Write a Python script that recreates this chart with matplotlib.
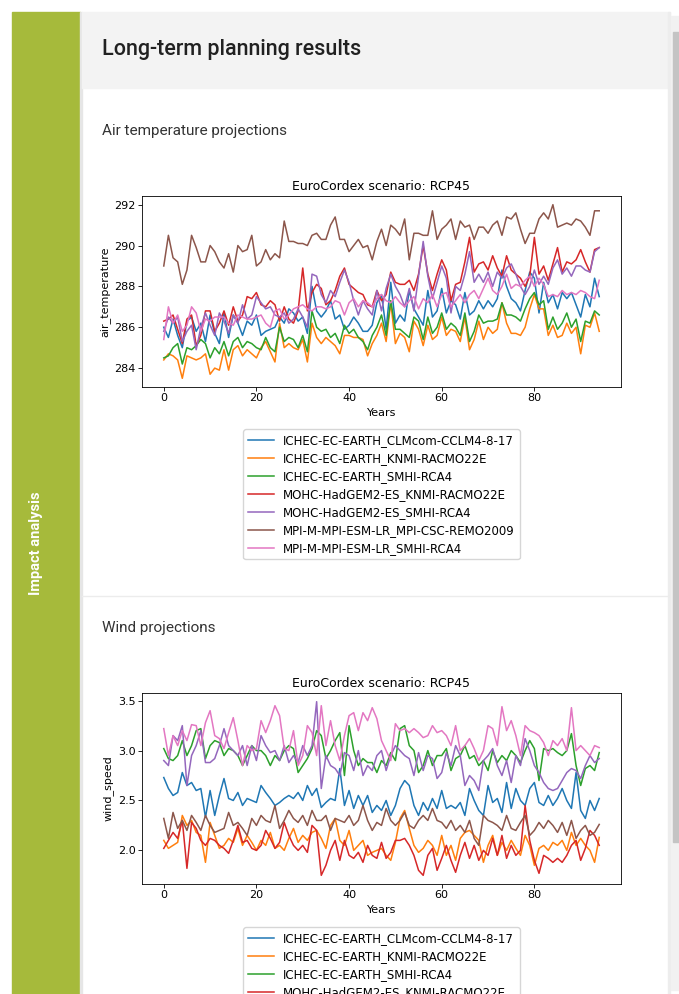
import numpy as np
import matplotlib
matplotlib.use('Agg')
import matplotlib.pyplot as plt
from matplotlib.patches import Rectangle
from matplotlib.ticker import MultipleLocator, FormatStrFormatter

W, H = 679, 994

###
# Data
###
years = np.arange(95)

models = [
    'ICHEC-EC-EARTH_CLMcom-CCLM4-8-17',
    'ICHEC-EC-EARTH_KNMI-RACMO22E',
    'ICHEC-EC-EARTH_SMHI-RCA4',
    'MOHC-HadGEM2-ES_KNMI-RACMO22E',
    'MOHC-HadGEM2-ES_SMHI-RCA4',
    'MPI-M-MPI-ESM-LR_MPI-CSC-REMO2009',
    'MPI-M-MPI-ESM-LR_SMHI-RCA4',
]

# air temperature (K)
temp_clmcom = [
    286.0, 285.5, 286.4, 285.6, 285.0, 286.3, 286.5, 285.8, 286.2, 285.3,
    286.6, 285.7, 285.2, 286.7, 285.5, 286.6, 286.2, 285.6, 286.3, 286.1,
    286.6, 285.6, 285.8, 285.9, 286.0, 286.5, 286.2, 286.9, 286.7, 286.3,
    286.5, 285.7, 288.0, 286.8, 286.5, 286.8, 287.3, 286.4, 286.6, 285.9,
    286.1, 286.5, 286.2, 285.8, 285.8, 286.1, 287.2, 287.6, 285.9, 288.2,
    286.2, 286.6, 286.3, 287.8, 286.9, 286.5, 286.1, 287.8, 286.5, 286.8,
    287.9, 286.7, 287.3, 287.1, 286.4, 287.7, 286.6, 286.8, 287.3, 286.9,
    287.3, 287.0, 287.4, 288.8, 288.0, 287.4, 287.2, 286.8, 287.8, 288.7,
    288.4, 286.7, 288.2, 287.2, 287.6, 286.9, 287.7, 287.4, 287.7, 287.1,
    286.5, 287.6, 287.0, 288.4, 287.5]
temp_ec_knmi = [
    284.4, 284.7, 284.6, 284.4, 283.5, 284.6, 284.5, 284.4, 284.5, 284.7,
    283.7, 284.0, 283.9, 284.9, 283.9, 284.9, 285.1, 284.6, 284.9, 284.7,
    284.5, 285.0, 285.3, 284.8, 284.3, 286.2, 285.0, 285.2, 285.0, 284.9,
    285.4, 284.3, 286.2, 285.5, 285.2, 285.5, 285.3, 285.1, 284.7, 285.6,
    285.6, 285.5, 285.5, 285.4, 284.6, 285.2, 285.6, 286.2, 285.3, 287.2,
    285.2, 285.7, 285.5, 284.8, 286.3, 285.9, 285.1, 286.1, 285.4, 285.6,
    286.5, 285.6, 285.9, 285.8, 285.3, 286.5, 284.9, 285.4, 286.3, 285.4,
    286.0, 285.7, 285.9, 287.2, 286.2, 285.7, 285.7, 285.6, 286.0, 286.9,
    287.6, 286.9, 286.9, 285.6, 286.1, 285.5, 285.6, 286.2, 285.7, 286.0,
    284.7, 286.1, 286.0, 286.7, 285.8]
temp_ec_smhi = [
    284.5, 284.6, 285.0, 285.2, 284.2, 285.0, 284.9, 285.1, 285.4, 285.2,
    284.5, 285.0, 284.7, 285.3, 284.6, 285.3, 285.5, 285.0, 285.3, 285.2,
    285.0, 284.9, 285.5, 285.0, 284.8, 286.0, 285.3, 285.5, 285.4, 285.0,
    285.6, 284.8, 286.8, 286.0, 285.8, 285.9, 285.5, 285.7, 285.2, 286.1,
    285.7, 285.9, 285.5, 285.3, 284.9, 285.6, 286.0, 286.6, 285.6, 287.3,
    285.9, 285.9, 285.7, 285.5, 286.5, 286.3, 285.4, 286.5, 285.7, 286.0,
    286.7, 285.9, 286.2, 286.0, 285.6, 286.7, 285.3, 285.8, 286.6, 286.2,
    286.3, 286.3, 286.4, 287.2, 286.6, 286.6, 286.5, 286.3, 286.9, 287.4,
    287.7, 287.1, 287.3, 285.9, 286.5, 285.9, 286.2, 286.7, 286.0, 286.4,
    285.3, 286.3, 286.2, 286.8, 286.6]
temp_mohc_knmi = [
    286.3, 286.4, 286.6, 285.9, 285.2, 286.4, 286.6, 285.1, 285.6, 286.8,
    286.8, 285.8, 286.2, 286.8, 286.1, 287.0, 286.3, 286.6, 287.5, 287.4,
    287.7, 287.1, 287.0, 287.3, 287.1, 286.3, 287.0, 286.4, 286.2, 286.8,
    288.9, 286.8, 287.7, 288.1, 287.9, 287.1, 287.3, 287.8, 288.5, 288.9,
    288.1, 287.9, 287.7, 287.6, 287.1, 287.0, 287.8, 287.3, 287.6, 288.7,
    288.2, 288.1, 288.1, 288.3, 287.8, 288.6, 290.0, 288.6, 287.8, 288.6,
    289.3, 288.8, 287.3, 288.1, 288.2, 289.2, 290.4, 288.7, 289.1, 289.2,
    288.8, 289.5, 288.9, 288.5, 289.5, 288.8, 288.6, 288.4, 288.0, 288.5,
    290.4, 288.6, 289.0, 288.3, 289.1, 289.9, 288.7, 289.2, 289.1, 289.3,
    289.8, 289.2, 288.7, 289.8, 289.9]
temp_mohc_smhi = [
    285.8, 286.5, 286.2, 286.5, 285.3, 285.8, 286.1, 284.9, 286.0, 286.7,
    286.1, 285.6, 286.7, 286.3, 285.7, 286.6, 286.2, 287.1, 286.4, 286.6,
    287.5, 287.2, 286.9, 287.0, 286.6, 286.5, 286.7, 286.2, 286.4, 286.9,
    286.5, 286.0, 288.6, 288.5, 287.6, 287.2, 287.8, 287.5, 288.2, 288.8,
    288.2, 287.3, 286.6, 287.3, 286.9, 286.6, 287.8, 286.8, 287.9, 288.6,
    288.0, 287.6, 287.0, 287.9, 286.8, 288.5, 290.2, 288.5, 287.4, 288.2,
    289.0, 288.4, 286.7, 288.0, 287.8, 288.6, 289.7, 288.2, 288.6, 288.2,
    288.7, 288.0, 288.7, 288.4, 288.9, 289.1, 288.6, 288.0, 287.6, 288.0,
    288.8, 288.1, 288.5, 288.1, 288.9, 289.3, 288.6, 288.9, 288.5, 289.0,
    289.0, 288.8, 288.7, 289.7, 289.9]
temp_mpi_remo = [
    289.0, 290.5, 289.4, 289.2, 288.1, 288.8, 290.5, 289.9, 289.2, 289.2,
    290.0, 289.7, 289.2, 288.9, 289.6, 288.7, 290.0, 289.7, 289.8, 290.5,
    289.0, 289.2, 289.8, 289.3, 289.6, 289.4, 291.2, 290.2, 290.2, 290.1,
    290.1, 290.0, 290.5, 290.6, 290.3, 290.3, 291.0, 291.4, 290.3, 290.3,
    289.7, 290.0, 290.3, 289.9, 290.0, 289.3, 290.2, 290.8, 290.0, 291.0,
    290.8, 290.5, 291.3, 289.3, 290.6, 290.6, 290.5, 290.5, 291.7, 290.3,
    290.8, 291.0, 291.3, 290.3, 291.2, 290.9, 291.0, 290.3, 290.9, 290.9,
    290.6, 291.0, 291.2, 290.5, 291.4, 291.3, 291.6, 290.8, 290.1, 290.6,
    290.6, 291.3, 291.6, 291.3, 292.0, 290.9, 291.0, 291.1, 291.0, 291.3,
    291.2, 290.9, 290.5, 291.7, 291.7]
temp_mpi_smhi = [
    285.4, 287.0, 286.2, 286.6, 285.8, 286.1, 287.0, 286.7, 285.8, 286.4,
    286.3, 286.5, 286.5, 286.5, 286.2, 286.1, 286.6, 286.5, 286.4, 286.4,
    286.5, 286.6, 286.2, 286.0, 286.8, 286.9, 286.4, 286.6, 286.9, 287.0,
    287.1, 286.9, 286.8, 287.0, 287.0, 286.9, 287.0, 287.3, 287.2, 286.6,
    287.2, 287.4, 287.0, 287.3, 287.2, 287.0, 287.4, 287.6, 287.3, 287.2,
    287.5, 287.2, 287.0, 287.3, 287.5, 286.9, 287.4, 287.2, 287.6, 287.0,
    287.6, 287.7, 287.0, 287.3, 287.6, 287.2, 287.6, 287.8, 287.4, 287.9,
    288.4, 287.8, 287.6, 288.0, 288.6, 287.9, 288.1, 288.0, 288.3, 288.5,
    288.0, 288.4, 288.1, 287.5, 287.6, 287.5, 287.8, 287.6, 287.7, 287.6,
    287.8, 287.7, 287.5, 287.4, 288.3]

# wind speed (m/s)
wind_clmcom = [
    2.73, 2.62, 2.55, 2.58, 2.78, 2.65, 2.68, 2.60, 2.62, 2.33,
    2.60, 2.35, 2.55, 2.72, 2.52, 2.50, 2.58, 2.45, 2.52, 2.50,
    2.48, 2.65, 2.58, 2.52, 2.45, 2.48, 2.52, 2.55, 2.52, 2.58,
    2.50, 2.65, 2.55, 2.62, 2.43, 2.48, 2.52, 2.50, 2.82, 2.45,
    2.60, 2.42, 2.55, 2.45, 2.55, 2.38, 2.45, 2.40, 2.50, 2.35,
    2.45, 2.62, 2.70, 2.65, 2.45, 2.35, 2.48, 2.40, 2.52, 2.42,
    2.60, 2.42, 2.45, 2.42, 2.48, 2.35, 2.62, 2.50, 2.40, 2.35,
    2.65, 2.48, 2.52, 2.38, 2.68, 2.42, 2.62, 2.50, 2.45, 2.62,
    2.68, 2.48, 2.45, 2.55, 2.45, 2.52, 2.62, 2.50, 2.42, 2.78,
    2.40, 2.32, 2.50, 2.40, 2.52]
wind_ec_knmi = [
    2.10, 2.02, 2.05, 2.08, 2.35, 2.25, 2.30, 2.18, 2.15, 1.88,
    2.28, 2.15, 2.02, 2.05, 2.12, 2.08, 2.22, 2.05, 2.15, 2.08,
    2.00, 2.10, 2.05, 2.18, 2.02, 2.05, 2.00, 2.12, 2.22, 2.08,
    2.15, 2.10, 2.18, 2.20, 2.12, 2.02, 2.25, 2.32, 2.10, 2.05,
    2.20, 2.00, 2.05, 2.10, 1.95, 1.98, 2.00, 2.02, 1.95, 1.90,
    2.08, 2.32, 2.40, 2.22, 2.05, 1.98, 2.02, 2.10, 2.05, 1.95,
    2.15, 1.95, 2.05, 1.90, 2.12, 2.18, 2.20, 2.15, 2.10, 1.88,
    2.05, 2.15, 1.95, 2.08, 2.00, 2.10, 2.02, 1.95, 2.15, 2.05,
    1.85, 2.02, 2.05, 2.00, 2.08, 2.05, 2.10, 2.00, 2.18, 2.05,
    2.12, 2.05, 2.00, 1.88, 2.13]
wind_ec_smhi = [
    3.02, 2.92, 2.90, 2.95, 3.10, 2.95, 3.05, 3.20, 3.22, 2.92,
    3.05, 3.10, 3.08, 2.95, 3.02, 3.00, 2.95, 2.85, 2.95, 3.05,
    3.00, 3.00, 2.95, 2.85, 2.95, 2.90, 3.00, 3.05, 3.02, 2.78,
    2.85, 2.92, 3.02, 3.20, 3.15, 2.92, 3.00, 3.10, 3.18, 2.75,
    3.25, 3.00, 2.85, 2.92, 2.88, 2.88, 2.78, 2.90, 2.85, 2.98,
    2.90, 3.22, 3.25, 3.05, 3.00, 2.78, 2.85, 3.00, 2.85, 2.95,
    2.95, 3.02, 2.80, 2.92, 2.95, 3.05, 2.92, 2.95, 2.85, 2.90,
    2.80, 3.00, 2.88, 2.95, 2.90, 3.00, 2.95, 2.88, 3.00, 3.10,
    3.02, 2.70, 3.02, 3.00, 3.02, 2.98, 2.95, 3.00, 3.17, 2.85,
    2.65, 2.82, 2.85, 2.80, 2.98]
wind_mohc_knmi = [
    2.02, 2.10, 2.18, 2.12, 2.30, 1.82, 2.28, 2.22, 2.10, 2.05,
    2.12, 2.10, 2.05, 2.02, 1.97, 2.10, 2.25, 2.08, 2.10, 2.02,
    2.00, 2.05, 2.20, 2.12, 2.02, 2.08, 2.28, 2.15, 2.05, 2.00,
    2.05, 1.98, 2.25, 2.20, 1.75, 1.85, 2.00, 2.10, 1.90, 2.10,
    1.95, 1.92, 1.98, 1.88, 2.05, 1.95, 1.92, 2.08, 1.92, 1.98,
    2.10, 2.10, 2.12, 2.05, 1.95, 1.80, 1.75, 1.95, 2.02, 1.80,
    1.92, 2.05, 1.90, 1.78, 1.95, 2.08, 1.92, 2.05, 1.90, 2.00,
    1.95, 2.12, 1.95, 2.15, 1.92, 2.05, 1.95, 2.00, 2.45, 2.10,
    1.90, 1.77, 1.95, 1.92, 1.88, 1.92, 1.88, 1.95, 2.05, 2.10,
    1.90, 2.02, 2.20, 2.15, 2.05]
wind_mohc_smhi = [
    2.90, 2.85, 3.15, 3.10, 3.25, 2.65, 2.95, 3.05, 3.20, 2.88,
    2.88, 2.92, 3.05, 3.22, 3.05, 3.00, 2.95, 3.05, 2.85, 3.05,
    2.90, 3.15, 3.05, 2.98, 3.00, 2.90, 3.05, 2.88, 2.95, 2.88,
    3.05, 2.95, 3.05, 3.49, 2.62, 2.95, 2.85, 2.82, 2.75, 2.98,
    2.95, 2.80, 3.00, 2.75, 2.85, 2.80, 2.95, 3.00, 2.80, 2.95,
    3.05, 3.00, 2.95, 2.92, 2.75, 2.98, 2.80, 2.95, 2.92, 2.72,
    2.78, 2.98, 2.85, 3.05, 2.95, 2.65, 2.75, 2.70, 2.60, 2.90,
    2.95, 3.02, 2.85, 2.75, 2.90, 2.68, 2.95, 2.85, 3.12, 3.00,
    2.85, 2.78, 2.68, 2.62, 2.60, 2.62, 2.70, 2.78, 2.82, 2.80,
    2.72, 2.85, 2.95, 2.88, 2.92]
wind_mpi_remo = [
    2.32, 2.12, 2.38, 2.22, 2.30, 2.20, 2.35, 2.28, 2.20, 2.35,
    2.25, 2.18, 2.20, 2.22, 2.38, 2.25, 2.28, 2.22, 2.15, 2.32,
    2.25, 2.35, 2.30, 2.28, 2.45, 2.22, 2.30, 2.40, 2.32, 2.28,
    2.35, 2.25, 2.40, 2.30, 2.30, 2.35, 2.20, 2.32, 2.30, 2.28,
    2.35, 2.25, 2.30, 2.45, 2.30, 2.20, 2.28, 2.25, 2.42, 2.30,
    2.25, 2.30, 2.38, 2.25, 2.22, 2.30, 2.35, 2.30, 2.42, 2.30,
    2.28, 2.22, 2.30, 2.20, 2.25, 2.18, 2.30, 2.12, 2.05, 2.35,
    2.30, 2.28, 2.25, 2.20, 2.35, 2.22, 2.20, 2.28, 2.35, 2.15,
    2.20, 2.28, 2.22, 2.30, 2.25, 2.18, 2.28, 2.15, 2.30, 2.12,
    2.20, 2.25, 2.15, 2.18, 2.26]
wind_mpi_smhi = [
    3.22, 2.95, 3.15, 3.05, 3.20, 3.10, 3.26, 3.25, 3.05, 3.28,
    3.40, 3.15, 3.12, 3.02, 3.18, 3.33, 3.10, 2.85, 3.05, 3.00,
    3.02, 3.30, 3.18, 3.30, 3.45, 3.35, 3.02, 3.00, 3.20, 2.85,
    2.95, 3.25, 3.18, 2.95, 3.45, 3.05, 3.30, 3.05, 2.90, 3.15,
    3.35, 3.38, 3.20, 3.38, 3.30, 3.43, 3.32, 3.10, 3.00, 2.90,
    3.27, 3.20, 3.22, 3.18, 3.22, 3.18, 3.13, 3.15, 3.25, 3.18,
    3.20, 3.15, 3.05, 3.25, 3.00, 3.05, 3.12, 3.02, 2.90, 3.00,
    3.25, 3.22, 3.05, 3.44, 3.20, 3.30, 3.15, 2.95, 3.25, 3.20,
    3.18, 3.15, 3.08, 2.95, 3.10, 3.05, 3.12, 3.00, 3.43, 3.00,
    3.05, 3.00, 2.95, 3.05, 3.03]

temp_series = [temp_clmcom, temp_ec_knmi, temp_ec_smhi, temp_mohc_knmi,
               temp_mohc_smhi, temp_mpi_remo, temp_mpi_smhi]
wind_series = [wind_clmcom, wind_ec_knmi, wind_ec_smhi, wind_mohc_knmi,
               wind_mohc_smhi, wind_mpi_remo, wind_mpi_smhi]


###
# Helper functions
###
def px_box(x0, y0, x1, y1):
    # pixel box (top-left origin) -> figure fraction rect
    return [x0 / W, 1 - y1 / H, (x1 - x0) / W, (y1 - y0) / H]


def draw_projection(fig, box, series, ylabel, legend_y):
    ax = fig.add_axes(px_box(*box))
    for values, name in zip(series, models):
        ax.plot(years, values, lw=1.1, label=name)
    ax.set_title('EuroCordex scenario: RCP45', fontsize=9, pad=4)
    ax.set_xlabel('Years', fontsize=8, labelpad=3)
    ax.set_ylabel(ylabel, fontsize=8, labelpad=3)
    ax.tick_params(labelsize=8, length=2.6, width=0.6, pad=2)
    for s in ax.spines.values():
        s.set_linewidth(0.6)
    ax.legend(loc='upper center', bbox_to_anchor=(0.5, legend_y), fontsize=8.5,
              handlelength=2.2, labelspacing=0.42, borderpad=0.4)
    return ax


fig = plt.figure(figsize=(W / 100, H / 100), dpi=100)
fig.patch.set_facecolor('white')

# page background drawn in pixel coordinates
bg = fig.add_axes([0, 0, 1, 1])
bg.set_xlim(0, W)
bg.set_ylim(H, 0)
bg.axis('off')

bg.add_patch(Rectangle((12, 12), 68, H - 12, color='#a6ba3b'))          # sidebar
bg.add_patch(Rectangle((80, 12), 2, H - 12, color='#e6e6e6'))
bg.add_patch(Rectangle((82, 12), 588, 76, color='#f3f3f3'))             # header
bg.add_patch(Rectangle((668, 12), 2, H - 12, color='#ededed'))
bg.add_patch(Rectangle((671, 16), 8, H - 20, color='#f1f1f1'))          # scroll track
bg.add_patch(Rectangle((673, 32), 6, 810, color='#c4c4c4'))             # scroll thumb
bg.plot([82, 668], [596, 596], color='#ececec', lw=1)

bg.text(36, 543, 'Impact analysis', rotation=90, color='white', fontsize=10.5,
        fontweight='bold', family=['Roboto', 'DejaVu Sans'], ha='center', va='center')
bg.text(102, 50, 'Long-term planning results', fontsize=15.5, color='#212121',
        fontweight='medium', family=['Roboto', 'DejaVu Sans'], va='center')
bg.text(102, 131, 'Air temperature projections', fontsize=11, color='#333333',
        family=['Roboto', 'DejaVu Sans'], va='center')
bg.text(102, 628, 'Wind projections', fontsize=11, color='#333333',
        family=['Roboto', 'DejaVu Sans'], va='center')

draw_projection(fig, (142, 196, 621, 387), temp_series, 'air_temperature', -0.19)

ax2 = draw_projection(fig, (142, 693, 621, 884), wind_series, 'wind_speed', -0.195)
ax2.yaxis.set_major_locator(MultipleLocator(0.5))
ax2.yaxis.set_major_formatter(FormatStrFormatter('%.1f'))

fig.savefig('out.png', dpi=100)
